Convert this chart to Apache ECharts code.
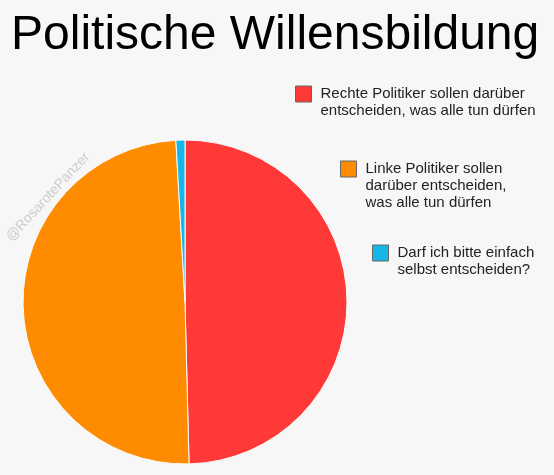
<!DOCTYPE html>
<html>
<head>
<meta charset="utf-8">
<script src="https://cdn.jsdelivr.net/npm/echarts@6/dist/echarts.min.js"></script>
<style>
  html, body { margin: 0; padding: 0; background: #f7f7f7; }
  #chart { width: 554px; height: 475px; }
</style>
</head>
<body>
<div id="chart"></div>
<script>
const categories = [
  'Rechte Politiker sollen darüber\nentscheiden, was alle tun dürfen',
  'Linke Politiker sollen\ndarüber entscheiden,\nwas alle tun dürfen',
  'Darf ich bitte einfach\nselbst entscheiden?'
]
const shares = [49.6, 49.5, 0.9]
const colors = ['#ff3838', '#ff8c00', '#17b6e8']

// legend positions (icon top-left) and line height
const legendPos = [[295, 86], [340, 161], [372, 245]]
const lineH = 17

const chart = echarts.init(document.getElementById('chart'))

// icon sits next to the first line: pad the text with blank lines above
const legends = categories.map((name, i) => {
  const n = name.split('\n').length
  const iconMid = legendPos[i][1] + 8
  return {
    data: [name],
    orient: 'vertical',
    left: legendPos[i][0],
    top: iconMid - (2 * n - 1) * lineH / 2,
    padding: 0,
    itemWidth: 16,
    itemHeight: 16,
    itemGap: 0,
    icon: 'rect',
    selectedMode: false,
    formatter: nm => '\n'.repeat(n - 1) + nm,
    itemStyle: { borderColor: '#666', borderWidth: 1 },
    textStyle: {
      color: '#222',
      fontSize: 15,
      fontFamily: 'Liberation Sans, Arial, sans-serif',
      lineHeight: lineH,
      padding: [0, 0, 0, 4],
    },
  }
})

chart.setOption({
  backgroundColor: '#f7f7f7',
  animation: false,
  title: {
    text: 'Politische Willensbildung',
    left: 6,
    top: 7,
    textStyle: {
      color: '#000',
      fontSize: 48,
      fontWeight: 'normal',
      fontFamily: 'Liberation Sans, Arial, sans-serif',
    },
  },
  legend: legends,
  graphic: [{
    type: 'text',
    x: 48,
    y: 197,
    rotation: 47 * Math.PI / 180,
    style: {
      text: '@RosarotePanzer',
      fill: '#cccccc',
      fontSize: 14,
      fontFamily: 'Liberation Sans, Arial, sans-serif',
      align: 'center',
      verticalAlign: 'middle',
    },
  }],
  series: [{
    type: 'pie',
    center: [185, 302],
    radius: 162,
    startAngle: 90,
    clockwise: true,
    label: { show: false },
    labelLine: { show: false },
    emphasis: { disabled: true },
    itemStyle: { borderColor: '#fbfbfb', borderWidth: 1 },
    data: categories.map((name, i) => ({
      name,
      value: shares[i],
      itemStyle: { color: colors[i] },
    })),
  }],
})
</script>
</body>
</html>
